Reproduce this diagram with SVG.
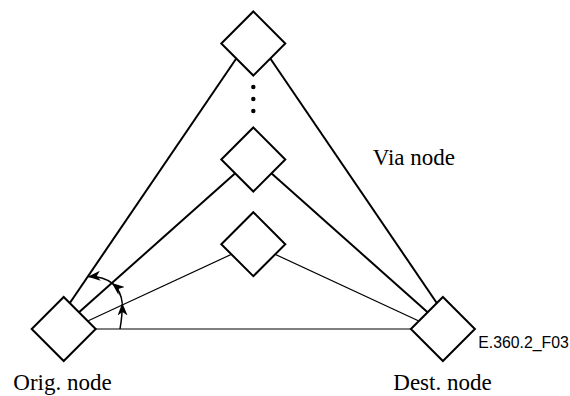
<svg xmlns="http://www.w3.org/2000/svg" width="570" height="396" viewBox="0 0 570 396">
<style>
.node{fill:#fff;stroke:#000;stroke-width:2}
.thick{stroke:#000;stroke-width:2;fill:none}
.thin{stroke:#000;stroke-width:1.2;fill:none}
.arc{stroke:#000;stroke-width:1.5;fill:none;marker-end:url(#ah)}
.lbl{font-family:"Liberation Serif","Times New Roman",serif;font-size:23px;fill:#000}
.code{font-family:"Liberation Sans",Arial,sans-serif;font-size:15.8px;fill:#000}
</style>
<defs>
<marker id="ah" markerUnits="userSpaceOnUse" markerWidth="13" markerHeight="10" viewBox="0 0 13 10" refX="12" refY="5" orient="auto">
<path d="M0,0 L12.5,5 L0,10 L3.5,5 z" fill="#000"/>
</marker>
</defs>
<rect width="570" height="396" fill="#fff"/>
<g id="connectors">
<line class="thick" x1="70" y1="302.7" x2="238" y2="56"/>
<line class="thick" x1="268.6" y1="56" x2="436.6" y2="302.7"/>
<line class="thick" x1="79" y1="312.3" x2="240" y2="169"/>
<line class="thick" x1="266.6" y1="169" x2="427.6" y2="312.3"/>
<line class="thin" x1="88.3" y1="320.7" x2="253.3" y2="244.2"/>
<line class="thin" x1="253.3" y1="244.2" x2="418.3" y2="320.7"/>
<line class="thin" x1="95.7" y1="329" x2="410.9" y2="329" stroke-width="1.5"/>
<path class="arc" d="M120,329 C121.5,320 122.5,312 122.3,303.5"/>
<path class="arc" d="M122.3,303.5 C121.5,295 118,288 112.3,283.3"/>
<path class="arc" d="M112.3,283.3 C105,278 97,276 88.3,276.7"/>
</g>
<g id="top-node">
<path class="node" d="M253.3,11.5 L285.3,43.5 L253.3,75.5 L221.3,43.5 Z"/>
</g>
<g id="ellipsis">
<circle cx="253.3" cy="87" r="2.2"/>
<circle cx="253.3" cy="99" r="2.2"/>
<circle cx="253.3" cy="111" r="2.2"/>
</g>
<g id="middle-node">
<path class="node" d="M253.3,127.5 L285.3,159.5 L253.3,191.5 L221.3,159.5 Z"/>
</g>
<g id="via-node">
<path class="node" d="M253.3,212.2 L285.3,244.2 L253.3,276.2 L221.3,244.2 Z"/>
<text class="lbl" x="372.7" y="165">Via node</text>
</g>
<g id="orig-node">
<path class="node" d="M63.7,297 L95.7,329 L63.7,361 L31.7,329 Z"/>
<text class="lbl" x="13.3" y="390">Orig. node</text>
</g>
<g id="dest-node">
<path class="node" d="M442.9,297 L474.9,329 L442.9,361 L410.9,329 Z"/>
<text class="lbl" x="393.3" y="390">Dest. node</text>
</g>
<text class="code" x="478.3" y="348">E.360.2_F03</text>
</svg>
